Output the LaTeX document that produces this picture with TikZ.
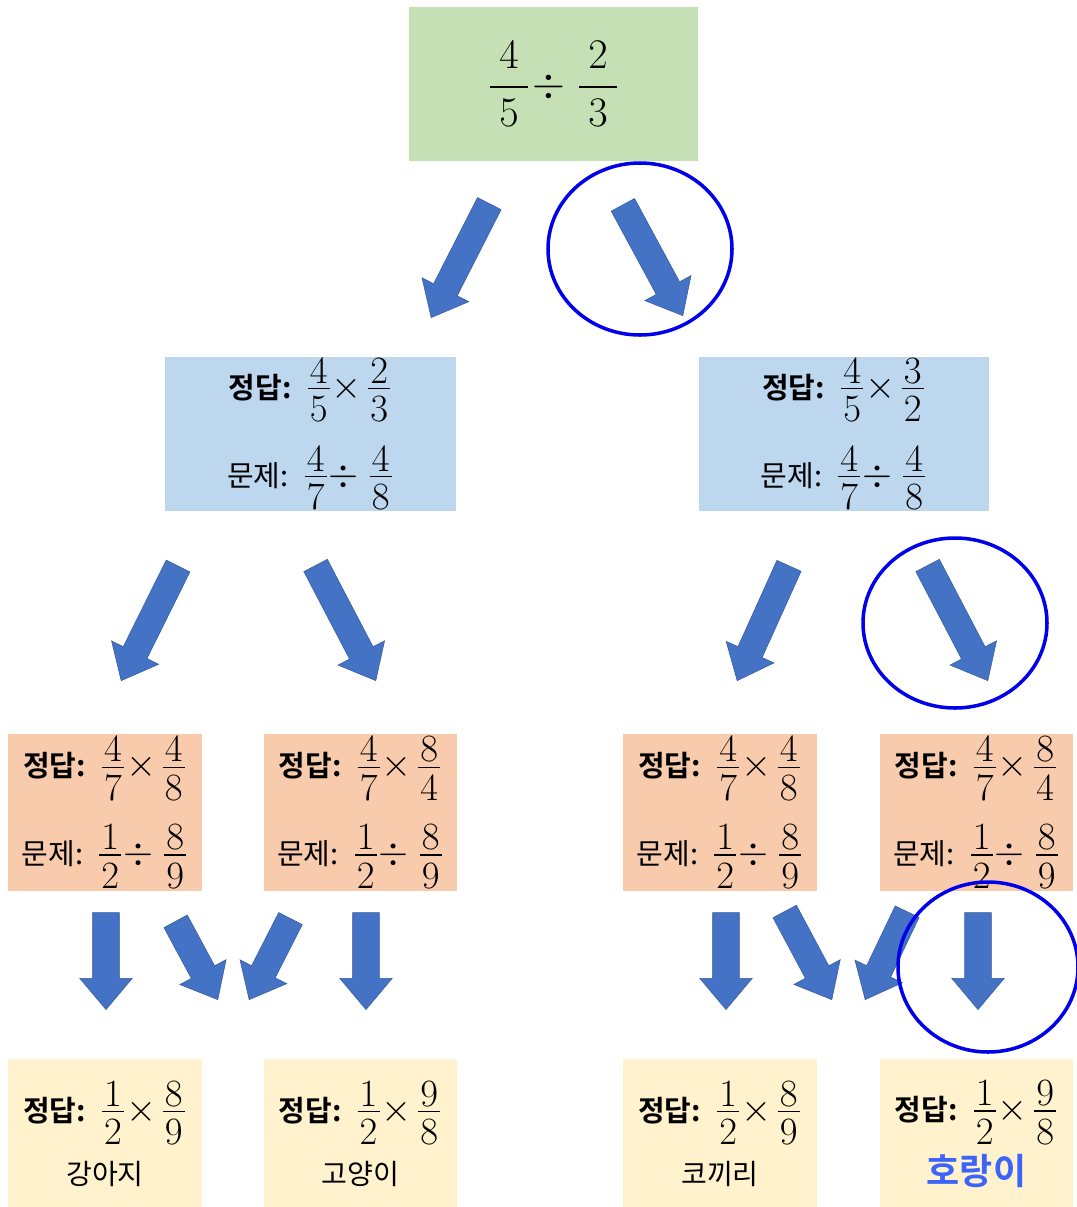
\RequirePackage{fix-cm}
\documentclass[tikz,border=0pt]{standalone}
\usepackage{fontspec}
\usepackage{amsmath}
\newfontfamily\kr{Noto Sans CJK KR}[BoldFont={Noto Sans CJK KR Bold}]
\usetikzlibrary{shapes.arrows}

\definecolor{topgreen}{HTML}{C5E0B4}
\definecolor{qblue}{HTML}{BDD7EE}
\definecolor{sorange}{HTML}{F8CBAD}
\definecolor{ayellow}{HTML}{FFF2CC}
\definecolor{arrowblue}{HTML}{4472C4}
\definecolor{tigerblue}{RGB}{60,100,250}
\definecolor{ringblue}{RGB}{0,0,235}

\newcommand\fr[2]{\frac{\textstyle\mkern1mu#1\mkern1mu}{\textstyle\mkern1mu#2\mkern1mu\rule{0pt}{0.8em}}}
\newcommand\dfr[2]{\dfrac{\mkern4mu#1\mkern4mu}{\mkern4mu#2\mkern4mu}}
\newcommand\kt[1]{{\kr\fontsize{16.5}{16.5}\selectfont #1}}
\newcommand\nm[1]{{\kr\fontsize{16}{16}\selectfont #1}}
\newcommand\ans{\kt{\bfseries 정답:}\hspace{8pt}}
\newcommand\prob{\kt{문제:}\hspace{8pt}}
\newcommand\mul{\mkern-4mu\times\mkern-2mu}
\newcommand\dv{\mkern-4mu\div\mkern0mu}

\begin{document}
\begin{tikzpicture}[
        x=0.02cm, y=-0.02cm,
        box/.style={inner sep=0pt, align=center, font=\fontsize{22}{50}\selectfont},
        topbox/.style={box, fill=topgreen, minimum width=5.78cm, minimum height=3.08cm, font=\fontsize{24}{50}\selectfont},
        qbox/.style={box, fill=qblue, minimum width=5.82cm, minimum height=3.08cm},
        sbox/.style={box, fill=sorange, minimum width=3.88cm, minimum height=3.14cm},
        abox/.style={box, fill=ayellow, minimum width=3.88cm, minimum height=3.0cm, font=\fontsize{22}{36}\selectfont},
        barrow/.style={single arrow, fill=arrowblue, draw=arrowblue!80!black, line width=0.3pt, anchor=tip,
            inner sep=0.26cm, minimum width=1pt, single arrow head extend=0.26cm, single arrow tip angle=80},
        ring/.style={draw=ringblue, line width=2pt}
    ]
        \useasboundingbox (0,0) rectangle (1076,1207);
        \fill[white] (0,0) rectangle (1076,1207);

        % Problem
        \node[topbox] (start) at (553.5,84) {$\dfr45\mkern-3mu\div\mkern1mu\dfr23$};

        % First step
        \node[qbox] (leftq) at (310.5,434) {\ans$\fr45\mul\fr23$\\\prob$\fr47\dv\fr48$};
        \node[qbox] (rightq) at (844,434) {\ans$\fr45\mul\fr32$\\\prob$\fr47\dv\fr48$};

        % Second step
        \node[sbox] (s1) at (105,812.5) {\ans$\fr47\mul\fr48$\\\prob$\fr12\dv\fr89$};
        \node[sbox] (s2) at (360.5,812.5) {\ans$\fr47\mul\fr84$\\\prob$\fr12\dv\fr89$};
        \node[sbox] (s3) at (720,812.5) {\ans$\fr47\mul\fr48$\\\prob$\fr12\dv\fr89$};
        \node[sbox] (s4) at (976.5,812.5) {\ans$\fr47\mul\fr84$\\\prob$\fr12\dv\fr89$};

        % Answers
        \node[abox] (y1) at (105,1134) {\ans$\fr12\mul\fr89$\\\nm{강아지}};
        \node[abox] (y2) at (360.5,1134) {\ans$\fr12\mul\fr98$\\\nm{고양이}};
        \node[abox] (y3) at (720,1134) {\ans$\fr12\mul\fr89$\\\nm{코끼리}};
        \node[abox] (y4) at (976.5,1134) {\ans$\fr12\mul\fr98$\\{\kr\bfseries\fontsize{20.5}{20.5}\selectfont\color{tigerblue}호랑이}};

        % Block arrows (placed by their tips)
        \foreach \nm/\px/\py/\ang/\len in {
            a1/431/318/243/2.56, a2/683/316/-61.6/2.52,
            a3/121/681/243.6/2.56, a4/376/681/-62.4/2.60,
            a5/737/681/245.7/2.52, a6/988/681/-62.4/2.60,
            a7/106/1010/-90/1.94, a8/218/1000/-61.7/1.78,
            a9/249/1000/243/1.82, a10/366/1010/-90/1.94,
            a11/726/1010/-90/1.94, a12/832/1000/-61.9/2.0,
            a13/865/1000/244.5/1.95, a14/978/1010/-90/1.94}
            \node[barrow, rotate=\ang, minimum height=\len cm] (\nm) at (\px,\py) {};

        % Highlight rings
        \draw[ring] (640,249) ellipse [x radius=92, y radius=86];
        \draw[ring] (955,623) ellipse [x radius=92, y radius=85];
        \draw[ring] (988,967) ellipse [x radius=90, y radius=85];
    \end{tikzpicture}
\end{document}
